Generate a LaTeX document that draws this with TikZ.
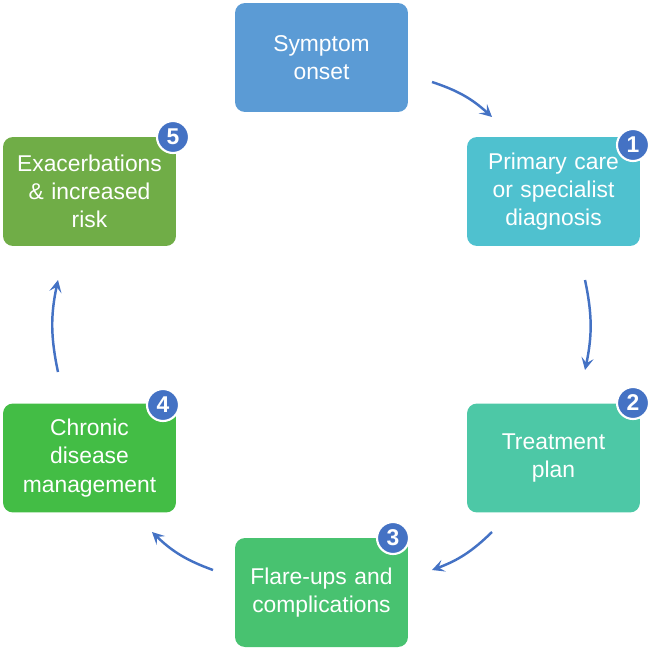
\documentclass[tikz,border=0pt]{standalone}
\usepackage{fontspec}
\setmainfont{Liberation Sans}
\usetikzlibrary{arrows.meta}
\definecolor{onsetcolor}{HTML}{5B9BD5}
\definecolor{primarycolor}{HTML}{4FC1CF}
\definecolor{treatcolor}{HTML}{4DC8A6}
\definecolor{flarecolor}{HTML}{48C270}
\definecolor{chroniccolor}{HTML}{43BD45}
\definecolor{exacolor}{HTML}{70AD47}
\definecolor{arrowcolor}{HTML}{4472C4}
\begin{document}
\begin{tikzpicture}[x=0.02cm, y=-0.02cm,
    stage/.style={draw=none, rounded corners=0.2cm, minimum width=3.46cm, minimum height=2.18cm,
      inner xsep=0pt, text width=3.46cm, align=center, text=white, font=\fontsize{13}{16}\selectfont},
    badge/.style={circle, fill=arrowcolor, draw=white, line width=1.2pt, minimum size=0.64cm, inner sep=0pt,
      text=white, font=\bfseries\fontsize{13}{13}\selectfont},
    arrow/.style={-{Stealth[length=7pt, width=7pt, inset=3pt]}, arrowcolor, line width=1.4pt}
]
\useasboundingbox (0,0) rectangle (662,649);

% Stages
\node[stage, fill=onsetcolor] (onset) at (321.5,57.5) {Symptom\\onset};
\node[stage, fill=primarycolor] (primary) at (553.5,191.5) {Primary care\\or specialist\\diagnosis};
\node[stage, fill=treatcolor] (treatment) at (553.5,458) {Treatment\\plan};
\node[stage, fill=flarecolor] (flare) at (321.5,592.5) {Flare-ups and\\complications};
\node[stage, fill=chroniccolor] (chronic) at (89.5,458) {Chronic\\disease\\management};
\node[stage, fill=exacolor] (exa) at (89.5,191.5) {Exacerbations\\\& increased\\risk};

% Badges
\node[badge] (b1) at (633,145) {1};
\node[badge] (b2) at (633,403) {2};
\node[badge] (b3) at (393,538) {3};
\node[badge] (b4) at (163,405) {4};
\node[badge] (b5) at (173,137) {5};

% Arrow ends
\coordinate (a1s) at (432,82);  \coordinate (a1e) at (492,117);
\coordinate (a2s) at (585,280); \coordinate (a2e) at (585,370);
\coordinate (a3s) at (492,532); \coordinate (a3e) at (432,570);
\coordinate (a4s) at (213,570); \coordinate (a4e) at (152,532);
\coordinate (a5s) at (58,372);  \coordinate (a5e) at (58,280);

% Arrows
\draw[arrow] (a1s) to[bend left=12] (a1e);
\draw[arrow] (a2s) to[bend left=12] (a2e);
\draw[arrow] (a3s) to[bend left=12] (a3e);
\draw[arrow] (a4s) to[bend left=12] (a4e);
\draw[arrow] (a5s) to[bend left=12] (a5e);

\end{tikzpicture}
\end{document}
